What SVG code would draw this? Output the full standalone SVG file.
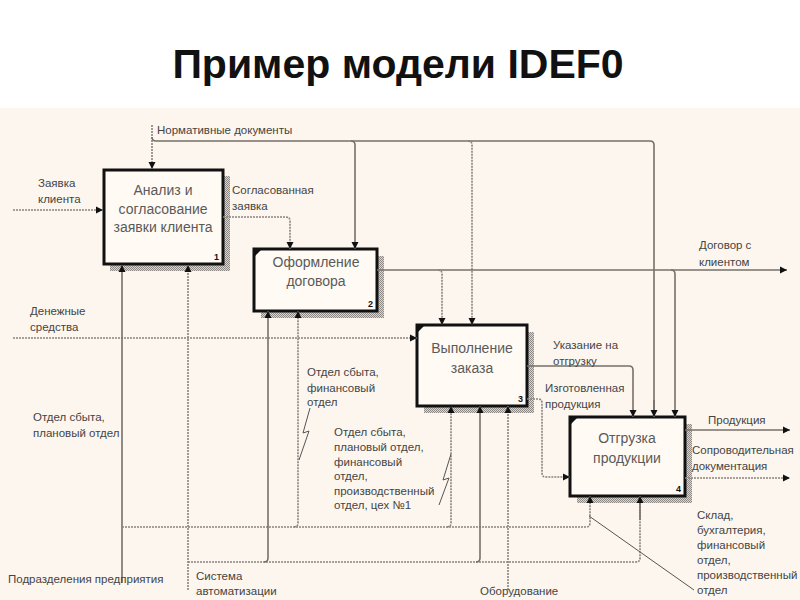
<svg xmlns="http://www.w3.org/2000/svg" width="800" height="600" viewBox="0 0 800 600">
<defs>
<pattern id="chk" width="2" height="2" patternUnits="userSpaceOnUse">
<rect width="2" height="2" fill="#d8d4d0"/>
<rect width="1" height="1" fill="#8f8a86"/>
<rect x="1" y="1" width="1" height="1" fill="#8f8a86"/>
</pattern>
<marker id="ar" markerWidth="8" markerHeight="8" refX="7" refY="4" orient="auto" markerUnits="userSpaceOnUse">
<path d="M0,0.5 L7,4 L0,7.5 Z" fill="#111"/>
</marker>
</defs>
<style>
.bg{fill:#fdf6ee}
.box{fill:#fffaf4;stroke:#111;stroke-width:3}
.sh{fill:url(#chk)}
.bt{font-family:"Liberation Sans",Arial,sans-serif;font-size:14px;fill:#5a5a5a;text-anchor:middle}
.num{font-family:"Liberation Sans",Arial,sans-serif;font-size:9px;font-weight:bold;fill:#111;text-anchor:end}
.lb{font-family:"Liberation Sans",Arial,sans-serif;font-size:11.5px;fill:#444}
.s{fill:none;stroke:#77706a;stroke-width:1.6}
.d{fill:none;stroke:#8a837d;stroke-width:1.6;stroke-dasharray:2 1}
.a{marker-end:url(#ar)}
.lt{fill:none;stroke:#555;stroke-width:1}
.tk{fill:#111}
</style>
<rect x="0" y="0" width="800" height="600" fill="#ffffff"/>
<rect class="bg" x="0" y="108" width="800" height="492"/>
<text x="398" y="78" font-family="Liberation Sans, Arial, sans-serif" font-size="41" font-weight="bold" fill="#111" text-anchor="middle">Пример модели IDEF0</text>

<g id="box1">
<rect class="sh" x="223" y="176" width="7" height="95"/>
<rect class="sh" x="110" y="264" width="120" height="7"/>
<rect class="box" x="104" y="170" width="119" height="94"/>
<text class="bt" x="163" y="195">Анализ  и</text>
<text class="bt" x="163" y="214">согласование</text>
<text class="bt" x="163" y="232">заявки клиента</text>
<text class="num" x="219" y="260">1</text>
</g>

<g id="box2">
<rect class="sh" x="377" y="256" width="7" height="62"/>
<rect class="sh" x="261" y="311" width="123" height="7"/>
<rect class="box" x="254" y="249" width="123" height="62"/>
<path class="tk" d="M255,250 h6 l-6,6 Z"/>
<text class="bt" x="316" y="267">Оформление</text>
<text class="bt" x="316" y="286">договора</text>
<text class="num" x="373" y="307">2</text>
</g>

<g id="box3">
<rect class="sh" x="527" y="332" width="7" height="81"/>
<rect class="sh" x="424" y="406" width="110" height="7"/>
<rect class="box" x="417" y="325" width="110" height="81"/>
<path class="tk" d="M418,326 h6 l-6,6 Z"/>
<text class="bt" x="472" y="353">Выполнение</text>
<text class="bt" x="472" y="373">заказа</text>
<text class="num" x="523" y="402">3</text>
</g>

<g id="box4">
<rect class="sh" x="685" y="424" width="7" height="79"/>
<rect class="sh" x="577" y="496" width="115" height="7"/>
<rect class="box" x="570" y="417" width="115" height="79"/>
<path class="tk" d="M571,418 h6 l-6,6 Z"/>
<text class="bt" x="627" y="443">Отгрузка</text>
<text class="bt" x="627" y="463">продукции</text>
<text class="num" x="681" y="492">4</text>
</g>

<g id="connectors">
<path class="d a" d="M13,210 H103"/>
<path class="d a" d="M152,125 V169"/>
<path class="s" d="M152,137 Q152,141 156,141 H650 Q654,141 654,145 V417"/>
<path class="s a" d="M654,400 V417"/>
<path class="s a" d="M351,141 Q355,141 355,145 V249"/>
<path class="d a" d="M468,141 Q472,141 472,145 V325"/>
<path class="d a" d="M223,217 H286 Q290,217 290,221 V249"/>
<path class="s a" d="M377,270 H787"/>
<path class="d a" d="M438,270 Q442,270 442,274 V325"/>
<path class="s a" d="M671,270 Q675,270 675,274 V417"/>
<path class="d a" d="M13,338 H417"/>
<path class="s a" d="M527,366 H629 Q633,366 633,370 V417"/>
<path class="d a" d="M527,399 H538 Q542,399 542,403 V473 Q542,477 546,477 H570"/>
<path class="s a" d="M685,430 H790"/>
<path class="d a" d="M685,478 H790"/>
<path class="s a" d="M122,583 V265"/>
<path class="d a" d="M122,527 H586 Q590,527 590,523 V496"/>
<path class="d a" d="M294,527 Q298,527 298,523 V311"/>
<path class="d a" d="M447,527 Q451,527 451,523 V406"/>
<path class="d a" d="M188,590 V265"/>
<path class="d" d="M188,562 H636 Q640,562 640,558 V496"/>
<path class="s a" d="M640,520 V496"/>
<path class="s a" d="M264,562 Q268,562 268,558 V311"/>
<path class="s a" d="M476,562 Q480,562 480,558 V406"/>
<path class="d a" d="M508,590 V406"/>
<path class="lt" d="M310,408 L303,433 L309,431 L299,460"/>
<path class="lt" d="M451,454 L443,480 L449,478 L439,505"/>
<path class="lt" d="M589,516 L694,590"/>
</g>

<g id="labels">
<text class="lb" x="157" y="134">Нормативные документы</text>
<text class="lb" x="38" y="187">Заявка</text>
<text class="lb" x="38" y="203">клиента</text>
<text class="lb" x="232" y="194">Согласованная</text>
<text class="lb" x="232" y="210">заявка</text>
<text class="lb" x="699" y="249">Договор с</text>
<text class="lb" x="699" y="266">клиентом</text>
<text class="lb" x="30" y="315">Денежные</text>
<text class="lb" x="30" y="331">средства</text>
<text class="lb" x="553" y="349">Указание на</text>
<text class="lb" x="553" y="365">отгрузку</text>
<text class="lb" x="545" y="392">Изготовленная</text>
<text class="lb" x="545" y="408">продукция</text>
<text class="lb" x="708" y="424">Продукция</text>
<text class="lb" x="692" y="454">Сопроводительная</text>
<text class="lb" x="692" y="470">документация</text>
<text class="lb" x="33" y="421">Отдел сбыта,</text>
<text class="lb" x="33" y="437">плановый отдел</text>
<text class="lb" x="307" y="376">Отдел сбыта,</text>
<text class="lb" x="307" y="392">финансовый</text>
<text class="lb" x="307" y="406">отдел</text>
<text class="lb" x="334" y="436">Отдел сбыта,</text>
<text class="lb" x="334" y="451">плановый отдел,</text>
<text class="lb" x="334" y="466">финансовый</text>
<text class="lb" x="334" y="480">отдел,</text>
<text class="lb" x="334" y="495">производственный</text>
<text class="lb" x="334" y="509">отдел, цех №1</text>
<text class="lb" x="697" y="519">Склад,</text>
<text class="lb" x="697" y="534">бухгалтерия,</text>
<text class="lb" x="697" y="549">финансовый</text>
<text class="lb" x="697" y="564">отдел,</text>
<text class="lb" x="697" y="579">производственный</text>
<text class="lb" x="697" y="594">отдел</text>
<text class="lb" x="8" y="583">Подразделения предприятия</text>
<text class="lb" x="196" y="580">Система</text>
<text class="lb" x="196" y="595">автоматизации</text>
<text class="lb" x="480" y="595">Оборудование</text>
</g>
</svg>
